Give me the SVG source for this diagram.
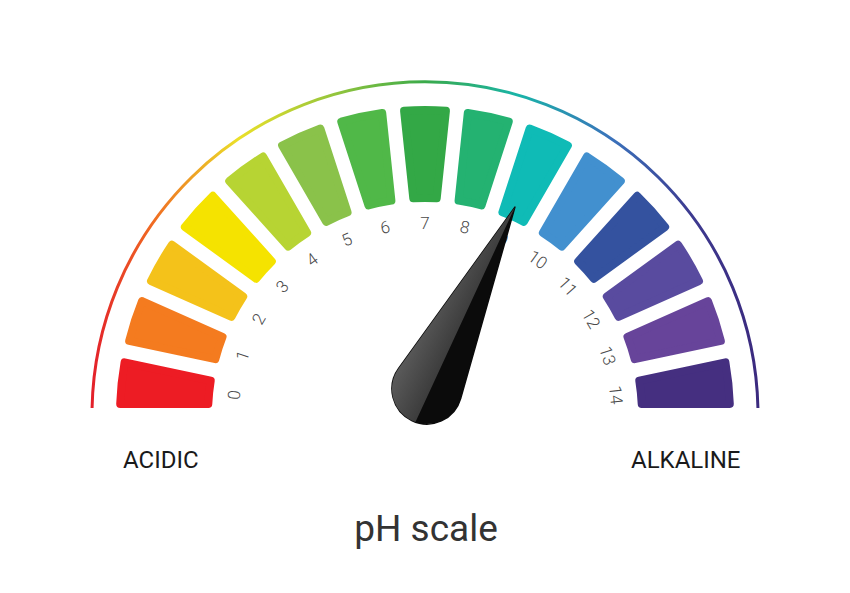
<svg xmlns="http://www.w3.org/2000/svg" xmlns:xlink="http://www.w3.org/1999/xlink" width="850" height="593" viewBox="0 0 850 593">
  <style>
    .seg { stroke-width: 8; stroke-linejoin: round; }
    .num { font-family: Roboto, "Liberation Sans", sans-serif; font-size: 17px; font-weight: 300; fill: #4a4a4a; text-anchor: middle; dominant-baseline: central; }
    .lbl { font-family: Roboto, "Liberation Sans", sans-serif; font-size: 24px; fill: #1a1a1a; }
    .title { font-family: Roboto, "Liberation Sans", sans-serif; font-size: 37px; fill: #333333; text-anchor: middle; }
  </style>
  <defs>
    <path id="seg" d="M -11.714,-216.68 L -20.921,-304.28 A 305 305 0 0 1 20.921,-304.28 L 11.714,-216.68 A 217 217 0 0 0 -11.714,-216.68 Z"/>
    <linearGradient id="arcGrad" gradientUnits="userSpaceOnUse" x1="92" y1="0" x2="758" y2="0">
      <stop offset="0" stop-color="#e3202a"/>
      <stop offset="0.09" stop-color="#f06a22"/>
      <stop offset="0.22" stop-color="#ebe029"/>
      <stop offset="0.36" stop-color="#96c63c"/>
      <stop offset="0.5" stop-color="#3aaa4a"/>
      <stop offset="0.64" stop-color="#19b4a8"/>
      <stop offset="0.78" stop-color="#3a72bb"/>
      <stop offset="0.9" stop-color="#3d3a90"/>
      <stop offset="1" stop-color="#3b2a7e"/>
    </linearGradient>
    <linearGradient id="needleLight" x1="0" y1="0" x2="1" y2="0">
      <stop offset="0" stop-color="#5a5a5a"/>
      <stop offset="1" stop-color="#3c3c3c"/>
    </linearGradient>
  </defs>

  <g id="outer-arc">
    <path d="M 92.07,408 A 333 333 0 0 1 757.93,408" fill="none" stroke="url(#arcGrad)" stroke-width="3"/>
  </g>

  <g id="segments">
    <g id="seg-0"><use xlink:href="#seg" class="seg" fill="#ed1c24" stroke="#ed1c24" transform="translate(425,415) rotate(-84)"/></g>
    <g id="seg-1"><use xlink:href="#seg" class="seg" fill="#f47b1f" stroke="#f47b1f" transform="translate(425,415) rotate(-72)"/></g>
    <g id="seg-2"><use xlink:href="#seg" class="seg" fill="#f4c21a" stroke="#f4c21a" transform="translate(425,415) rotate(-60)"/></g>
    <g id="seg-3"><use xlink:href="#seg" class="seg" fill="#f5e300" stroke="#f5e300" transform="translate(425,415) rotate(-48)"/></g>
    <g id="seg-4"><use xlink:href="#seg" class="seg" fill="#b7d433" stroke="#b7d433" transform="translate(425,415) rotate(-36)"/></g>
    <g id="seg-5"><use xlink:href="#seg" class="seg" fill="#8ac24a" stroke="#8ac24a" transform="translate(425,415) rotate(-24)"/></g>
    <g id="seg-6"><use xlink:href="#seg" class="seg" fill="#50b848" stroke="#50b848" transform="translate(425,415) rotate(-12)"/></g>
    <g id="seg-7"><use xlink:href="#seg" class="seg" fill="#33a846" stroke="#33a846" transform="translate(425,415) rotate(0)"/></g>
    <g id="seg-8"><use xlink:href="#seg" class="seg" fill="#24b271" stroke="#24b271" transform="translate(425,415) rotate(12)"/></g>
    <g id="seg-9"><use xlink:href="#seg" class="seg" fill="#0fbbb6" stroke="#0fbbb6" transform="translate(425,415) rotate(24)"/></g>
    <g id="seg-10"><use xlink:href="#seg" class="seg" fill="#4290cf" stroke="#4290cf" transform="translate(425,415) rotate(36)"/></g>
    <g id="seg-11"><use xlink:href="#seg" class="seg" fill="#34529f" stroke="#34529f" transform="translate(425,415) rotate(48)"/></g>
    <g id="seg-12"><use xlink:href="#seg" class="seg" fill="#594b9f" stroke="#594b9f" transform="translate(425,415) rotate(60)"/></g>
    <g id="seg-13"><use xlink:href="#seg" class="seg" fill="#67449a" stroke="#67449a" transform="translate(425,415) rotate(72)"/></g>
    <g id="seg-14"><use xlink:href="#seg" class="seg" fill="#452f80" stroke="#452f80" transform="translate(425,415) rotate(84)"/></g>
  </g>

  <g id="numbers">
    <text class="num" transform="translate(425,415) rotate(-84)" x="0" y="-192">0</text>
    <text class="num" transform="translate(425,415) rotate(-72)" x="0" y="-192">1</text>
    <text class="num" transform="translate(425,415) rotate(-60)" x="0" y="-192">2</text>
    <text class="num" transform="translate(425,415) rotate(-48)" x="0" y="-192">3</text>
    <text class="num" transform="translate(425,415) rotate(-36)" x="0" y="-192">4</text>
    <text class="num" transform="translate(425,415) rotate(-24)" x="0" y="-192">5</text>
    <text class="num" transform="translate(425,415) rotate(-12)" x="0" y="-192">6</text>
    <text class="num" transform="translate(425,415) rotate(0)" x="0" y="-192">7</text>
    <text class="num" transform="translate(425,415) rotate(12)" x="0" y="-192">8</text>
    <text class="num" transform="translate(425,415) rotate(24)" x="0" y="-192">9</text>
    <text class="num" transform="translate(425,415) rotate(36)" x="0" y="-192">10</text>
    <text class="num" transform="translate(425,415) rotate(48)" x="0" y="-192">11</text>
    <text class="num" transform="translate(425,415) rotate(60)" x="0" y="-192">12</text>
    <text class="num" transform="translate(425,415) rotate(72)" x="0" y="-192">13</text>
    <text class="num" transform="translate(425,415) rotate(84)" x="0" y="-192">14</text>
  </g>

  <g id="needle" transform="translate(427,389) rotate(25.8)">
    <path d="M 0,-202 L 34.47,-6.07 A 35 35 0 1 1 -34.47,-6.07 Z" fill="#0b0b0b" stroke="#0b0b0b" stroke-width="1.5" stroke-linejoin="round"/>
    <path d="M 0,-202 L -34.47,-6.07 A 35 35 0 0 0 4,34.77 Z" fill="url(#needleLight)"/>
  </g>

  <g id="labels">
    <text class="lbl" x="123" y="468">ACIDIC</text>
    <text class="lbl" x="631" y="468">ALKALINE</text>
    <text class="title" x="426" y="541">pH scale</text>
  </g>
</svg>
